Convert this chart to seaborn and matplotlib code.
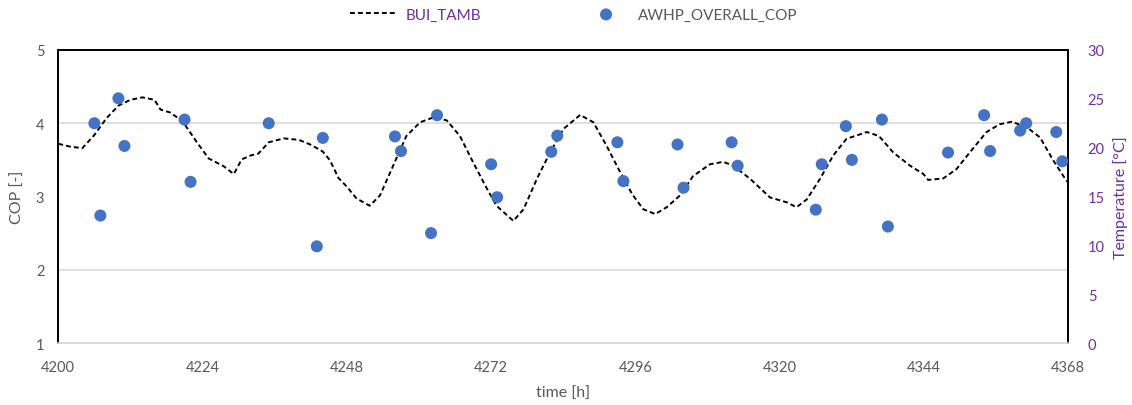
import matplotlib
matplotlib.use("Agg")
import matplotlib.pyplot as plt
import seaborn as sns
import pandas as pd
from matplotlib.ticker import MultipleLocator

# COP samples (hour, value)
cop_hours = [4206, 4207, 4210, 4211, 4221, 4222, 4235, 4243, 4244, 4256, 4257, 4262,
             4263, 4272, 4273, 4282, 4283, 4293, 4294, 4303, 4304, 4312, 4313, 4326,
             4327, 4331, 4332, 4337, 4338, 4348, 4354, 4355, 4360, 4361, 4366, 4367]
cop_values = [4.00, 2.74, 4.34, 3.69, 4.05, 3.20, 4.00, 2.32, 3.80, 3.82, 3.62, 2.50,
              4.11, 3.44, 2.99, 3.61, 3.83, 3.74, 3.21, 3.71, 3.12, 3.74, 3.42, 2.82,
              3.44, 3.96, 3.50, 4.05, 2.59, 3.60, 4.11, 3.62, 3.90, 4.00, 3.88, 3.48]

# Ambient temperature trace (hour, °C)
tamb_hours = [4200.0, 4202.0, 4204.0, 4206.0, 4208.0, 4210.0, 4212.0, 4214.0, 4216.0, 4217.0,
              4218.6, 4220.0, 4221.0, 4223.0, 4225.0, 4227.5, 4229.2, 4230.5, 4232.0, 4233.3,
              4235.0, 4237.5, 4240.0, 4242.0, 4244.0, 4245.2, 4246.6, 4248.0, 4249.6, 4251.8,
              4253.5, 4255.7, 4257.9, 4260.2, 4262.4, 4264.6, 4266.8, 4269.0, 4271.3, 4272.9,
              4275.7, 4277.4, 4279.6, 4281.8, 4284.0, 4286.8, 4289.0, 4291.2, 4293.2, 4295.5,
              4297.3, 4299.3, 4301.2, 4303.4, 4305.6, 4308.4, 4310.6, 4312.3, 4315.1, 4318.4,
              4321.2, 4322.8, 4324.5, 4326.7, 4328.9, 4331.1, 4334.5, 4336.5, 4338.9, 4341.7,
              4343.9, 4344.7, 4347.2, 4349.4, 4351.6, 4354.4, 4356.6, 4358.6, 4361.1, 4363.3,
              4365.5, 4367.5, 4368.0]
tamb_values = [20.4, 20.1, 19.95, 21.3, 23.0, 24.3, 24.9, 25.15, 24.9, 23.9,
               23.6, 23.0, 22.4, 20.6, 18.9, 18.1, 17.3, 18.8, 19.2, 19.4,
               20.55, 20.95, 20.8, 20.3, 19.6, 18.7, 16.9, 16.0, 14.8, 14.05,
               15.1, 18.15, 21.2, 22.6, 23.1, 22.8, 21.2, 18.5, 15.8, 14.05,
               12.5, 13.7, 16.8, 19.5, 21.9, 23.35, 22.6, 20.2, 17.8, 15.2,
               13.7, 13.2, 13.9, 15.1, 17.1, 18.3, 18.55, 18.15, 16.8, 14.9,
               14.4, 13.9, 14.7, 16.8, 19.2, 20.9, 21.6, 21.2, 19.5, 18.15,
               17.3, 16.7, 16.85, 17.8, 19.5, 21.6, 22.4, 22.65, 22.1, 21.05,
               18.7, 16.8, 16.4]

x_ticks = [4200, 4224, 4248, 4272, 4296, 4320, 4344, 4368]

GRAY = "#595959"
PURPLE = "#7030A0"
BLUE = "#4472C4"
GRID = "#d9d9d9"

sns.set_theme(style="white")
plt.rcParams["font.family"] = ["Lato", "DejaVu Sans"]

fig = plt.figure(figsize=(11.32, 4.06), dpi=100)
ax = fig.add_axes([0.0515, 0.1527, 0.8922, 0.7217])
ax2 = ax.twinx()

cop_df = pd.DataFrame({"time": cop_hours, "cop": cop_values})
tamb_df = pd.DataFrame({"time": tamb_hours, "tamb": tamb_values})

# temperature line on the secondary axis (drawn beneath the COP dots)
sns.lineplot(data=tamb_df, x="time", y="tamb", ax=ax2, color="black",
             linewidth=1.4, linestyle=(0, (2.5, 1.6)), label="BUI_TAMB", zorder=3)
sns.scatterplot(data=cop_df, x="time", y="cop", ax=ax, color=BLUE, s=75,
                edgecolor="none", label="AWHP_OVERALL_COP", zorder=4)

ax.set_zorder(ax2.get_zorder() + 1)
ax.patch.set_visible(False)

ax.set_xlim(4200, 4368)
ax.set_ylim(1, 5)
ax2.set_ylim(0, 30)
ax.set_xticks(x_ticks)
ax.set_yticks([1, 2, 3, 4, 5])
ax2.set_yticks([0, 5, 10, 15, 20, 25, 30])

# grid drawn on the lower axes so it stays behind the line
ax2.yaxis.set_minor_locator(MultipleLocator(7.5))
ax2.grid(True, which="minor", axis="y", color=GRID, linewidth=1.2, zorder=0)
ax2.grid(False, which="major")
ax2.xaxis.grid(True, color=GRID, linewidth=1.2)
ax2.tick_params(axis="y", which="minor", length=0)
ax.grid(False)

ax.tick_params(axis="both", length=0, labelsize=10.5, labelcolor=GRAY)
ax.tick_params(axis="x", pad=12)
ax.tick_params(axis="y", pad=10)
ax2.tick_params(axis="y", length=0, labelsize=10.5, labelcolor=PURPLE, pad=14)

ax.set_xlabel("time [h]", fontsize=11.5, color=GRAY, labelpad=9)
ax.set_ylabel("COP [-]", fontsize=11.5, color=GRAY, labelpad=8)
ax2.set_ylabel("Temperature [°C]", fontsize=11.5, color=PURPLE, labelpad=6)

for a in (ax, ax2):
    for side in ("left", "top", "right"):
        a.spines[side].set_color("black")
        a.spines[side].set_linewidth(1.3)
    a.spines["bottom"].set_color(GRID)
    a.spines["bottom"].set_linewidth(1.2)

h1, l1 = ax2.get_legend_handles_labels()
h2, l2 = ax.get_legend_handles_labels()
for a in (ax, ax2):
    if a.get_legend() is not None:
        a.get_legend().remove()
leg = fig.legend(h1 + h2, l1 + l2, loc="center", bbox_to_anchor=(0.507, 0.962),
                 ncol=2, frameon=False, fontsize=11, handlelength=3.0,
                 handletextpad=0.6, columnspacing=6.7)
texts = leg.get_texts()
texts[0].set_color(PURPLE)
texts[1].set_color(GRAY)

fig.savefig("out.png", dpi=100)
